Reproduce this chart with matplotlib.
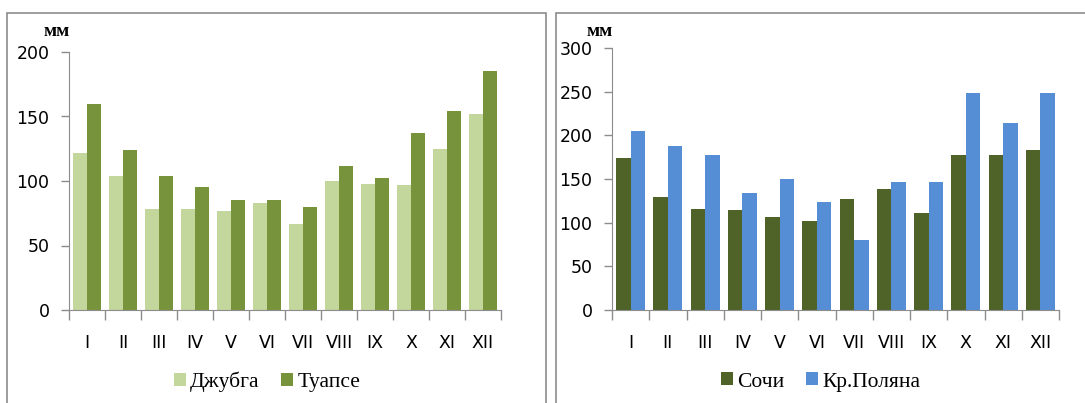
import numpy as np
import matplotlib.pyplot as plt
from matplotlib.patches import Rectangle

months = ['I', 'II', 'III', 'IV', 'V', 'VI', 'VII', 'VIII', 'IX', 'X', 'XI', 'XII']

dzhubga = [122, 104, 78, 78, 77, 83, 67, 100, 98, 97, 125, 152]
tuapse = [160, 124, 104, 95, 85, 85, 80, 112, 102, 137, 154, 185]

sochi = [174, 129, 116, 115, 107, 102, 127, 138, 111, 178, 177, 183]
krpolyana = [205, 188, 177, 134, 150, 124, 80, 146, 147, 248, 214, 249]

W, H = 1085, 403
fig = plt.figure(figsize=(W / 100, H / 100), dpi=100)
fig.patch.set_facecolor('white')

# panel frames
for x0, x1 in [(7, 546), (556, 1090)]:
    fig.patches.append(Rectangle((x0 / W, -0.1), (x1 - x0) / W, (H - 13) / H + 0.1,
                                 transform=fig.transFigure, fill=False,
                                 edgecolor='#8c8c8c', linewidth=1.2))


def panel(left, right, top, ymax, step, s1, s2, c1, c2, n1, n2, leg_x, mm_x):
    bottom = 310
    ax = fig.add_axes([left / W, (H - bottom) / H, (right - left) / W, (bottom - top) / H])
    x = np.arange(len(months))
    bw = 0.39
    b1 = ax.bar(x - bw / 2, s1, bw, color=c1, label=n1)
    b2 = ax.bar(x + bw / 2, s2, bw, color=c2, label=n2)
    ax.set_xlim(-0.5, 11.5)
    ax.set_ylim(0, ymax)
    ax.set_yticks(np.arange(0, ymax + 1, step))
    ax.set_xticks(np.arange(-0.5, 12, 1))
    ax.set_xticklabels([])
    ax.set_xticks(x, minor=True)
    ax.set_xticklabels(months, minor=True, fontsize=12.5)
    ax.tick_params(axis='x', which='major', length=7, color='#8c8c8c', width=1)
    ax.tick_params(axis='x', which='minor', length=0, pad=17)
    ax.tick_params(axis='y', length=6, color='#8c8c8c', width=1, labelsize=12.5, pad=8)
    for s in ['top', 'right']:
        ax.spines[s].set_visible(False)
    for s in ['left', 'bottom']:
        ax.spines[s].set_color('#8c8c8c')
    fig.text(mm_x / W, 1 - 31 / H, 'мм', family='Liberation Serif', fontweight='bold',
             fontsize=14, ha='center', va='center')
    fig.legend(handles=[b1, b2], loc='center', bbox_to_anchor=(leg_x / W, 1 - 382 / H),
               ncol=2, frameon=False, prop={'family': 'Liberation Serif', 'size': 15.5},
               handlelength=0.55, handleheight=0.55, handletextpad=0.2, columnspacing=1.0)
    return ax


panel(69, 501, 52, 200, 50, dzhubga, tuapse, '#c3d69b', '#77933c',
      'Джубга', 'Туапсе', 267, 57)
panel(612, 1059, 48, 300, 50, sochi, krpolyana, '#4f6228', '#558ed5',
      'Сочи', 'Кр.Поляна', 821, 600)

fig.savefig('out.png', dpi=100)
